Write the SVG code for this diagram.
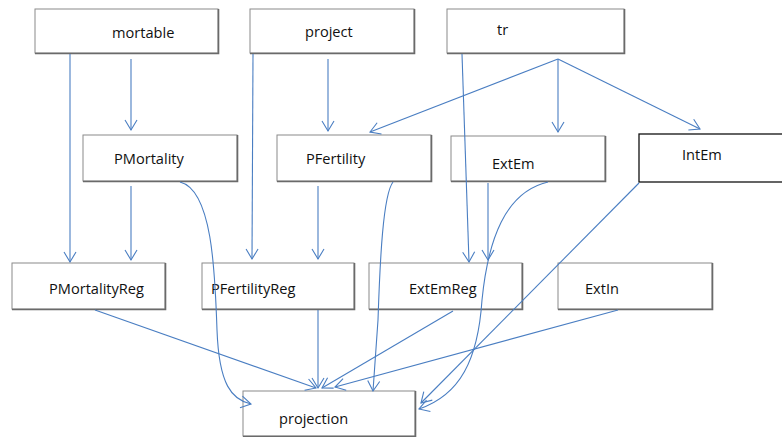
<svg xmlns="http://www.w3.org/2000/svg" width="782" height="437" viewBox="0 0 782 437">
<style>
.box{fill:#fff;stroke:#8a8a8a;stroke-width:1}
.sh{fill:none;stroke:#6a6a6a;stroke-width:1.6}
.lbl{font-family:"Open Sans","Liberation Sans",sans-serif;font-size:14.6px;fill:#111}
.c{fill:none;stroke:#4a7ec2;stroke-width:1.1;marker-end:url(#ah)}
</style>
<defs>
<marker id="ah" markerUnits="userSpaceOnUse" markerWidth="14" markerHeight="16" refX="11" refY="7" orient="auto" viewBox="0 0 14 14">
<path d="M1,1 L11,7 L1,13" fill="none" stroke="#4a7ec2" stroke-width="1.1"/>
</marker>
</defs>
<rect width="782" height="437" fill="#fff"/>
<g id="mortable"><rect class="box" x="35" y="9" width="183" height="44"/><path class="sh" d="M218.5,9 V53.5 H35"/><text class="lbl" x="112" y="38">mortable</text></g>
<g id="project"><rect class="box" x="250" y="9" width="164" height="44"/><path class="sh" d="M414.5,9 V53.5 H250"/><text class="lbl" x="305" y="37">project</text></g>
<g id="tr"><rect class="box" x="447" y="9" width="177" height="44"/><path class="sh" d="M624.5,9 V53.5 H447"/><text class="lbl" x="497" y="35">tr</text></g>
<g id="PMortality"><rect class="box" x="83" y="135" width="154" height="46"/><path class="sh" d="M237.5,135 V181.5 H83"/><text class="lbl" x="114" y="164">PMortality</text></g>
<g id="PFertility"><rect class="box" x="277" y="135" width="154" height="46"/><path class="sh" d="M431.5,135 V181.5 H277"/><text class="lbl" x="306" y="164">PFertility</text></g>
<g id="ExtEm"><rect class="box" x="451" y="136" width="154" height="45"/><path class="sh" d="M605.5,136 V181.5 H451"/><text class="lbl" x="492" y="169">ExtEm</text></g>
<g id="IntEm"><rect x="639" y="134" width="150" height="48" fill="#fff" stroke="#111" stroke-width="1.3"/><text class="lbl" x="682" y="160">IntEm</text></g>
<g id="PMortalityReg"><rect class="box" x="12" y="263" width="153" height="46"/><path class="sh" d="M165.5,263 V309.5 H12"/><text class="lbl" x="49" y="294">PMortalityReg</text></g>
<g id="PFertilityReg"><rect class="box" x="202" y="263" width="152" height="46"/><path class="sh" d="M354.5,263 V309.5 H202"/><text class="lbl" x="211" y="294">PFertilityReg</text></g>
<g id="ExtEmReg"><rect class="box" x="369" y="263" width="153" height="46"/><path class="sh" d="M522.5,263 V309.5 H369"/><text class="lbl" x="409" y="294">ExtEmReg</text></g>
<g id="ExtIn"><rect class="box" x="558" y="263" width="154" height="46"/><path class="sh" d="M712.5,263 V309.5 H558"/><text class="lbl" x="585" y="294">ExtIn</text></g>
<g id="projection"><rect class="box" x="243" y="391" width="172" height="45"/><path class="sh" d="M415.5,391 V436.5 H243"/><text class="lbl" x="279" y="424">projection</text></g>
<g id="connectors">
<path class="c" d="M70,54 V262"/>
<path class="c" d="M131,59 V130"/>
<path class="c" d="M253,54 L252,259"/>
<path class="c" d="M328,59 V131"/>
<path class="c" d="M462,54 L469,262"/>
<path class="c" d="M558,59 L370,132"/>
<path class="c" d="M558,59 V132"/>
<path class="c" d="M558,59 L700,129"/>
<path class="c" d="M131,186 V260"/>
<path class="c" d="M180,182 C212,190 215,270 217,330 C219,385 232,400 251,404"/>
<path class="c" d="M318,186 V259"/>
<path class="c" d="M393,182 C383,195 380,260 378,320 L373,391"/>
<path class="c" d="M488,183 V260"/>
<path class="c" d="M548,182 C505,192 488,240 482,300 C478,360 460,395 419,409"/>
<path class="c" d="M639,183 L421,403"/>
<path class="c" d="M95,310 L316,388"/>
<path class="c" d="M318,310 V388"/>
<path class="c" d="M453,311 L322,388"/>
<path class="c" d="M618,310 L335,387"/>
</g>
</svg>
